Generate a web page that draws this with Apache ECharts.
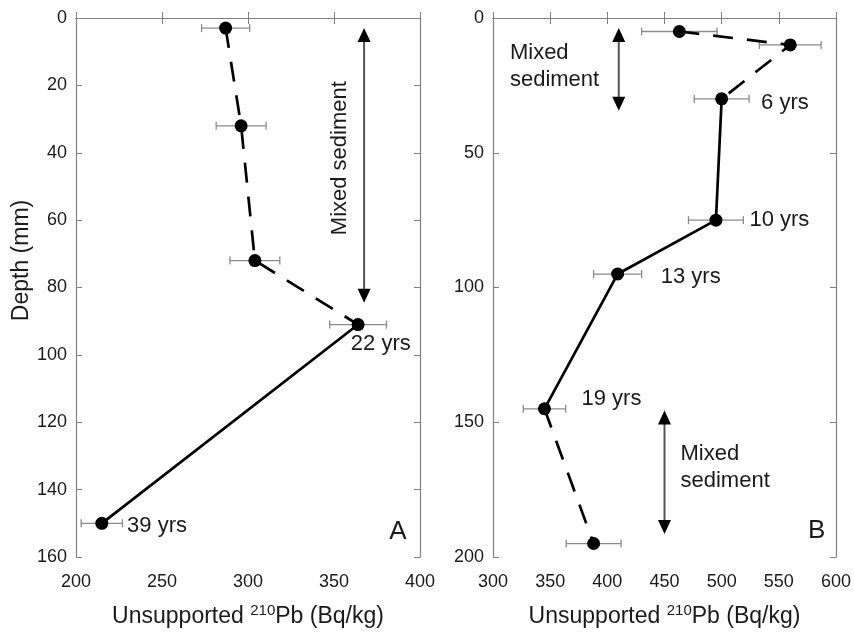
<!DOCTYPE html>
<html>
<head>
<meta charset="utf-8">
<script src="https://cdn.jsdelivr.net/npm/echarts@6/dist/echarts.min.js"></script>
<style>
html,body{margin:0;padding:0;background:#fff;}
#c{width:854px;height:633px;}
</style>
</head>
<body>
<div id="c"></div>
<script>
// ---- Panel A data ----
var aPb    = [287, 296, 304, 364, 215];
var aDepth = [3, 32, 72, 91, 150];
var aErr   = [14, 14.5, 14.5, 16.5, 12];
var aXTicks = [200, 250, 300, 350, 400];
var aYTicks = [0, 20, 40, 60, 80, 100, 120, 140, 160];
// ---- Panel B data ----
var bPb    = [463, 560, 500, 495, 409, 345, 388];
var bDepth = [5, 10, 30, 75, 95, 145, 195];
var bErr   = [33, 27, 24, 24, 21, 18.5, 24];
var bXTicks = [300, 350, 400, 450, 500, 550, 600];
var bYTicks = [0, 50, 100, 150, 200];
// ---- annotations: [x, depth, text] ----
var aLabels = [[359.8, 96.9, '22 yrs'], [229.7, 150.8, '39 yrs']];
var bLabels = [[534.5, 31.5, '6 yrs'], [524.3, 74.8, '10 yrs'], [446.7, 95.9, '13 yrs'], [377.4, 141.5, '19 yrs']];
var aMixedText = [[353.6, 41.6, 'Mixed sediment']];
var bMixedText = [[314.8, 18, 'Mixed\nsediment'], [464, 166.9, 'Mixed\nsediment']];
// arrows: [x, depthTop, depthBottom]
var aArrows = [[367.5, 3, 84.5]];
var bArrows = [[410, 3.7, 34.4], [450, 145.6, 191.5]];
var panelLetters = [[387.2, 152.6, 'A'], [583.2, 190.4, 'B']];

var FONT = '"Liberation Sans", Arial, sans-serif';
var AX = '#808080';
var TXT = '#1a1a1a';

function zip(xs, ys, from, to) {
  var out = [];
  for (var i = from; i <= to; i++) out.push([xs[i], ys[i]]);
  return out;
}
function errData(xs, ys, es) {
  return xs.map(function (x, i) { return [x, ys[i], es[i]]; });
}

function bottomAxis(grid, ticks) {
  return {
    type: 'value', gridIndex: grid, position: 'bottom',
    min: ticks[0], max: ticks[ticks.length - 1], interval: ticks[1] - ticks[0],
    axisLine: {show: true, lineStyle: {color: AX, width: 1.2}},
    axisTick: {show: true, inside: true, length: 6, lineStyle: {color: AX}},
    axisLabel: {show: true, margin: 16, fontSize: 18, fontFamily: FONT, color: TXT},
    splitLine: {show: false},
    name: '{a|Unsupported }{s|210}{a|Pb (Bq/kg)}',
    nameLocation: 'middle', nameGap: 46,
    nameTextStyle: {
      rich: {
        a: {fontSize: 23, fontFamily: FONT, color: TXT},
        s: {fontSize: 15, fontFamily: FONT, color: TXT, padding: [0, 0, 12, 0]}
      }
    }
  };
}
function topAxis(grid, ticks) {
  return {
    type: 'value', gridIndex: grid, position: 'top',
    min: ticks[0], max: ticks[ticks.length - 1], interval: ticks[1] - ticks[0],
    axisLine: {show: true, lineStyle: {color: AX, width: 1.2}},
    axisTick: {show: true, inside: true, length: 6, lineStyle: {color: AX}},
    axisLabel: {show: false}, splitLine: {show: false}
  };
}
function leftAxis(grid, ticks, withName) {
  var ax = {
    type: 'value', gridIndex: grid, position: 'left', inverse: true,
    min: ticks[0], max: ticks[ticks.length - 1], interval: ticks[1] - ticks[0],
    axisLine: {show: true, lineStyle: {color: AX, width: 1.2}},
    axisTick: {show: true, inside: true, length: 6, lineStyle: {color: AX}},
    axisLabel: {show: true, margin: 9, fontSize: 18, fontFamily: FONT, color: TXT},
    splitLine: {show: false}
  };
  if (withName) {
    ax.name = 'Depth (mm)';
    ax.nameLocation = 'middle';
    ax.nameGap = 43;
    ax.nameTextStyle = {fontSize: 23, fontFamily: FONT, color: TXT, padding: [0, 0, 0, 54]};
  }
  return ax;
}
function rightAxis(grid, ticks) {
  return {
    type: 'value', gridIndex: grid, position: 'right', inverse: true,
    min: ticks[0], max: ticks[ticks.length - 1], interval: ticks[1] - ticks[0],
    axisLine: {show: true, lineStyle: {color: AX, width: 1.2}},
    axisTick: {show: true, inside: true, length: 6, lineStyle: {color: AX}},
    axisLabel: {show: false}, splitLine: {show: false}
  };
}

function errSeries(xi, yi, data) {
  return {
    type: 'custom', xAxisIndex: xi, yAxisIndex: yi, data: data, z: 1,
    renderItem: function (params, api) {
      var x = api.value(0), y = api.value(1), e = api.value(2);
      var p = api.coord([x - e, y]), q = api.coord([x + e, y]);
      var st = {stroke: '#8a8a8a', lineWidth: 1.3};
      return {type: 'group', children: [
        {type: 'line', shape: {x1: p[0], y1: p[1], x2: q[0], y2: q[1]}, style: st},
        {type: 'line', shape: {x1: p[0], y1: p[1] - 4, x2: p[0], y2: p[1] + 4}, style: st},
        {type: 'line', shape: {x1: q[0], y1: q[1] - 4, x2: q[0], y2: q[1] + 4}, style: st}
      ]};
    }
  };
}
function lineSeries(xi, yi, data, dashed) {
  return {
    type: 'line', xAxisIndex: xi, yAxisIndex: yi, data: data, symbol: 'none', z: 2,
    lineStyle: {color: '#000', width: 2.7, type: dashed ? [20, 14] : 'solid'},
    silent: true, animation: false
  };
}
function pointSeries(xi, yi, data) {
  return {
    type: 'scatter', xAxisIndex: xi, yAxisIndex: yi, data: data, z: 3,
    symbol: 'circle', symbolSize: 13, itemStyle: {color: '#000', opacity: 1}, animation: false
  };
}
function textSeries(xi, yi, items, size, rotate, align) {
  return {
    type: 'custom', xAxisIndex: xi, yAxisIndex: yi, z: 4,
    data: items.map(function (d) { return [d[0], d[1]]; }),
    renderItem: function (params, api) {
      var p = api.coord([api.value(0), api.value(1)]);
      return {
        type: 'text', x: p[0], y: p[1], rotation: rotate ? Math.PI / 2 : 0,
        style: {
          text: items[params.dataIndex][2],
          fill: TXT, fontSize: size, fontFamily: FONT,
          align: align || 'left', verticalAlign: 'middle',
          textAlign: align || 'left', textVerticalAlign: 'middle',
          lineHeight: 27
        }
      };
    }
  };
}
function arrowSeries(xi, yi, data) {
  return {
    type: 'custom', xAxisIndex: xi, yAxisIndex: yi, data: data, z: 4,
    renderItem: function (params, api) {
      var x = api.value(0);
      var t = api.coord([x, api.value(1)]);
      var b = api.coord([x, api.value(2)]);
      var hl = 14, hw = 6.5;
      return {type: 'group', children: [
        {type: 'line', shape: {x1: t[0], y1: t[1] + hl - 2, x2: b[0], y2: b[1] - hl + 2},
         style: {stroke: '#555', lineWidth: 2}},
        {type: 'polygon', shape: {points: [[t[0], t[1]], [t[0] - hw, t[1] + hl], [t[0] + hw, t[1] + hl]]},
         style: {fill: '#000'}},
        {type: 'polygon', shape: {points: [[b[0], b[1]], [b[0] - hw, b[1] - hl], [b[0] + hw, b[1] - hl]]},
         style: {fill: '#000'}}
      ]};
    }
  };
}

var chart = echarts.init(document.getElementById('c'), null, {renderer: 'canvas'});
chart.setOption({
  backgroundColor: '#fff',
  animation: false,
  grid: [
    {left: 76, top: 18, width: 344, height: 540},
    {left: 493, top: 18, width: 345, height: 540}
  ],
  xAxis: [bottomAxis(0, aXTicks), topAxis(0, aXTicks), bottomAxis(1, bXTicks), topAxis(1, bXTicks)],
  yAxis: [leftAxis(0, aYTicks, true), rightAxis(0, aYTicks), leftAxis(1, bYTicks, false), rightAxis(1, bYTicks)],
  series: [
    errSeries(0, 0, errData(aPb, aDepth, aErr)),
    lineSeries(0, 0, zip(aPb, aDepth, 0, 3), true),
    lineSeries(0, 0, zip(aPb, aDepth, 3, 4), false),
    pointSeries(0, 0, zip(aPb, aDepth, 0, 4)),
    textSeries(0, 0, aLabels, 22, false),
    textSeries(0, 0, aMixedText, 22, true, 'center'),
    arrowSeries(0, 0, aArrows),
    textSeries(0, 0, [panelLetters[0]], 26, false, 'center'),

    errSeries(2, 2, errData(bPb, bDepth, bErr)),
    lineSeries(2, 2, zip(bPb, bDepth, 0, 2), true),
    lineSeries(2, 2, zip(bPb, bDepth, 2, 5), false),
    lineSeries(2, 2, zip(bPb, bDepth, 5, 6), true),
    pointSeries(2, 2, zip(bPb, bDepth, 0, 6)),
    textSeries(2, 2, bLabels, 22, false),
    textSeries(2, 2, bMixedText, 22, false),
    arrowSeries(2, 2, bArrows),
    textSeries(2, 2, [panelLetters[1]], 26, false, 'center')
  ]
});
</script>
</body>
</html>
